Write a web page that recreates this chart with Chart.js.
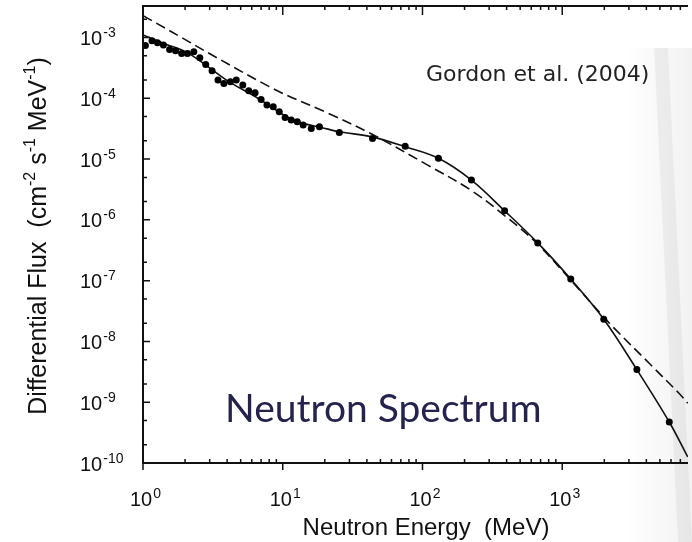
<!DOCTYPE html>
<html>
<head>
<meta charset="utf-8">
<script src="https://cdn.jsdelivr.net/npm/chart.js@4"></script>
<style>
  html, body { margin: 0; background: #fff; }
  canvas { display: block; }
</style>
</head>
<body>
<canvas id="c" width="692" height="542"></canvas>
<script>
// measured points (MeV, cm^-2 s^-1 MeV^-1)
const dotE = [1.04, 1.16, 1.27, 1.40, 1.55, 1.71, 1.89, 2.08, 2.31, 2.55, 2.81, 3.12, 3.44, 3.79, 4.22, 4.65, 5.18, 5.71, 6.34, 7.00,
  7.71, 8.55, 9.44, 10.4, 11.5, 12.7, 14.0, 16.0, 18.3, 25.4, 43.9, 75.2, 130, 224, 387, 668, 1151, 1982, 3420, 5834];
const dotF = [7.4e-4, 8.83e-4, 8.18e-4, 7.52e-4, 6.38e-4, 6.05e-4, 5.48e-4, 5.48e-4, 5.82e-4, 4.65e-4,
  3.61e-4, 2.84e-4, 2.00e-4, 1.76e-4, 1.87e-4, 2.00e-4, 1.65e-4, 1.33e-4, 1.23e-4, 9.59e-5,
  7.73e-5, 7.24e-5, 6.00e-5, 4.85e-5, 4.38e-5, 4.10e-5, 3.62e-5, 3.19e-5, 3.39e-5, 2.74e-5,
  2.19e-5, 1.63e-5, 1.03e-5, 4.51e-6, 1.41e-6, 4.18e-7, 1.06e-7, 2.32e-8, 3.44e-9, 4.73e-10];

// solid curve through the data
const solidE = [1, 1.44, 2.07, 3.01, 4.17, 6.81, 10.6, 13.7, 18.8, 25.6, 43.4, 74.8, 130, 224, 387, 668, 1151, 1982, 3420, 5834, 7907];
const solidF = [1.10e-3, 7.83e-4, 5.65e-4, 3.14e-4, 1.85e-4, 9.70e-5, 5.00e-5, 3.91e-5, 3.32e-5, 2.81e-5, 2.32e-5,
  1.60e-5, 1.03e-5, 4.51e-6, 1.41e-6, 4.18e-7, 1.06e-7, 2.32e-8, 3.44e-9, 4.73e-10, 1.26e-10];

// dashed curve
const dashE = [1, 8.45, 21.3, 43.3, 109, 222, 383, 661, 1271, 2188, 4207, 6871, 7907];
const dashF = [2.29e-3, 1.46e-4, 5.64e-5, 2.58e-5, 7.96e-6, 3.08e-6, 1.20e-6, 4.08e-7, 7.89e-8, 1.97e-8, 4.33e-9, 1.39e-9, 9.6e-10];

const xTickExp = [0, 1, 2, 3];
const yTickExp = [-10, -9, -8, -7, -6, -5, -4, -3];
const xMinorMul = [2, 3, 4, 5, 6, 7, 8, 9];
const yMinorMul = [2, 5];

const pts = (xs, ys) => xs.map((x, i) => ({ x, y: ys[i] }));

function supText(ctx, base, exp, x, y, align, baseFont, expFont, raise) {
  ctx.font = baseFont;
  const wb = ctx.measureText(base).width;
  ctx.font = expFont;
  const we = ctx.measureText(exp).width;
  let x0 = align === 'center' ? x - (wb + we) / 2 : x;
  ctx.textAlign = 'left';
  ctx.font = baseFont;
  ctx.fillText(base, x0, y);
  ctx.font = expFont;
  ctx.fillText(exp, x0 + wb + 1, y - raise);
}

const frame = {
  id: 'frame',
  beforeDatasetsDraw(chart) {
    const ctx = chart.ctx;
    ctx.save();
    // faint page shadow on the right edge
    const g = ctx.createLinearGradient(625, 0, 692, 0);
    g.addColorStop(0, 'rgba(0,0,0,0)');
    g.addColorStop(1, 'rgba(0,0,0,0.05)');
    ctx.fillStyle = g;
    ctx.fillRect(625, 48, 67, 494);
    ctx.fillStyle = 'rgba(0,0,0,0.05)';
    ctx.beginPath();
    ctx.moveTo(654, 48); ctx.lineTo(668, 48); ctx.lineTo(692, 542); ctx.lineTo(678, 542);
    ctx.closePath();
    ctx.fill();
    ctx.restore();
  },
  afterDraw(chart) {
    const ctx = chart.ctx;
    const xs = chart.scales.x, ys = chart.scales.y;
    const { left, right, top, bottom } = chart.chartArea;
    ctx.save();
    ctx.strokeStyle = '#111';
    ctx.lineWidth = 2;
    ctx.beginPath();
    ctx.moveTo(right, top); ctx.lineTo(left, top); ctx.lineTo(left, bottom); ctx.lineTo(right, bottom);
    ctx.stroke();

    ctx.lineWidth = 1.5;
    ctx.beginPath();
    xTickExp.forEach(n => {
      const px = xs.getPixelForValue(Math.pow(10, n));
      ctx.moveTo(px, bottom); ctx.lineTo(px, bottom + 7);
      ctx.moveTo(px, top); ctx.lineTo(px, top + 9);
      xMinorMul.forEach(m => {
        const v = m * Math.pow(10, n);
        if (v > xs.max) return;
        const p = xs.getPixelForValue(v);
        ctx.moveTo(p, bottom); ctx.lineTo(p, bottom - 4);
        ctx.moveTo(p, top); ctx.lineTo(p, top + 4);
      });
    });
    yTickExp.forEach(n => {
      const py = ys.getPixelForValue(Math.pow(10, n));
      ctx.moveTo(left, py); ctx.lineTo(left + 7, py);
      yMinorMul.forEach(m => {
        const v = m * Math.pow(10, n);
        if (v > ys.max) return;
        const p = ys.getPixelForValue(v);
        ctx.moveTo(left, p); ctx.lineTo(left + 4, p);
      });
    });
    ctx.stroke();

    // tick labels
    ctx.fillStyle = '#111';
    ctx.textBaseline = 'alphabetic';
    const tf = '20px "Liberation Sans", Arial, sans-serif';
    const sf = '14px "Liberation Sans", Arial, sans-serif';
    yTickExp.forEach(n => {
      const py = ys.getPixelForValue(Math.pow(10, n));
      supText(ctx, '10', '-' + Math.abs(n), 80, py + 7.5, 'left', tf, sf, 8);
    });
    xTickExp.forEach(n => {
      const px = xs.getPixelForValue(Math.pow(10, n));
      supText(ctx, '10', String(n), px + 2, 506, 'center', tf, sf, 8);
    });

    // axis titles
    ctx.font = '24px "Liberation Sans", Arial, sans-serif';
    ctx.textAlign = 'center';
    ctx.fillText('Neutron Energy  (MeV)', 426, 535);

    const af = '25px "Liberation Sans", Arial, sans-serif';
    const asf = '16px "Liberation Sans", Arial, sans-serif';
    const parts = [['Differential Flux  (cm', 0], ['-2', 1], [' s', 0], ['-1', 1], [' MeV', 0], ['-1', 1], [')', 0]];
    let total = 0;
    parts.forEach(([t, s]) => { ctx.font = s ? asf : af; total += ctx.measureText(t).width; });
    ctx.translate(46, 236);
    ctx.rotate(-Math.PI / 2);
    ctx.textAlign = 'left';
    let cx = -total / 2;
    parts.forEach(([t, s]) => {
      ctx.font = s ? asf : af;
      ctx.fillText(t, cx, s ? -11 : 0);
      cx += ctx.measureText(t).width;
    });
    ctx.setTransform(1, 0, 0, 1, 0, 0);

    // annotations
    ctx.textAlign = 'left';
    ctx.fillStyle = '#222';
    ctx.font = '22px "DejaVu Sans", sans-serif';
    ctx.fillText('Gordon et al. (2004)', 426, 81);
    ctx.fillStyle = '#23234d';
    ctx.font = '39px Lato, "Open Sans", sans-serif';
    ctx.fillText('Neutron Spectrum', 225, 422);
    ctx.restore();
  }
};

new Chart(document.getElementById('c'), {
  type: 'scatter',
  data: {
    datasets: [
      { data: pts(dashE, dashF), showLine: true, borderColor: '#111', borderWidth: 1.6, borderDash: [10, 5], pointRadius: 0, tension: 0.35, order: 3 },
      { data: pts(solidE, solidF), showLine: true, borderColor: '#111', borderWidth: 1.6, pointRadius: 0, tension: 0.35, order: 2 },
      { data: pts(dotE, dotF), pointRadius: 3.5, backgroundColor: '#000', borderWidth: 0, order: 1 }
    ]
  },
  options: {
    responsive: false,
    animation: false,
    layout: { padding: { left: 143, top: 6, right: 0, bottom: 79 } },
    plugins: { legend: { display: false }, tooltip: { enabled: false } },
    scales: {
      x: { type: 'logarithmic', min: 1, max: 7943, display: false },
      y: { type: 'logarithmic', min: 1e-10, max: 3.3e-3, display: false }
    }
  },
  plugins: [frame]
});
</script>
</body>
</html>
